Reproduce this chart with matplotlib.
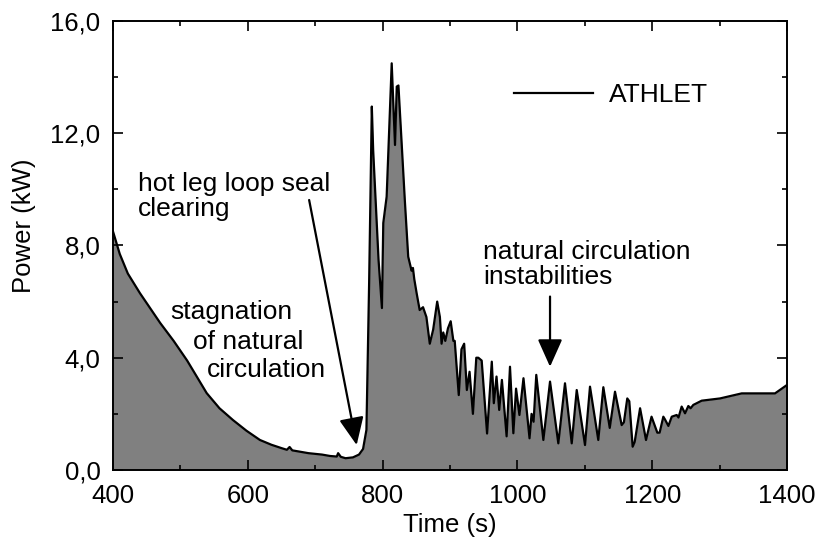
import matplotlib
matplotlib.use("Agg")
import matplotlib.pyplot as plt
from matplotlib.ticker import MultipleLocator, FuncFormatter

plt.rcParams['font.family'] = ['Liberation Sans', 'DejaVu Sans']

# --- DATA ---
time_s = [400, 410, 422, 440, 470, 490, 510, 525, 539, 558, 578, 598, 618, 635,
          650, 658, 662, 666, 690, 710, 722, 732, 734, 738, 745, 756, 765, 771,
          776, 780, 784, 786, 794, 799, 801, 806, 813.5, 818.4, 821, 823.5, 828,
          833, 838, 843, 845, 847, 850.5, 855, 860, 865, 870, 875, 881, 885,
          887.5, 890, 893, 897, 901, 905, 907, 913, 917, 921, 925, 929, 934,
          939, 942, 947, 955, 962, 965, 969, 973, 977, 984, 989, 994, 998,
          1003, 1009, 1018, 1021, 1024, 1028, 1038.5, 1048.4, 1060.7, 1070.6,
          1080.6, 1088, 1100.3, 1107.7, 1120, 1127.5, 1137, 1144.8, 1154.7,
          1158, 1163, 1166, 1171, 1174, 1182, 1190.8, 1199, 1207.6, 1211,
          1216.5, 1219, 1224, 1229, 1236.3, 1239, 1243.7, 1248.7, 1253.6, 1257,
          1261, 1266, 1273.4, 1300.6, 1332.8, 1382.2, 1400]
power_kw = [8.5, 7.7, 7.0, 6.3, 5.24, 4.6, 3.9, 3.3, 2.74, 2.2, 1.78, 1.4, 1.07, 0.9,
            0.78, 0.72, 0.82, 0.7, 0.6, 0.55, 0.5, 0.48, 0.6, 0.47, 0.42, 0.45, 0.55, 0.75,
            1.43, 6.66, 12.95, 11.4, 7.48, 5.77, 8.8, 9.74, 14.49, 11.58, 13.66, 13.7, 11.76,
            9.6, 7.6, 7.1, 7.2, 6.8, 6.3, 5.7, 5.8, 5.45, 4.5, 5.0, 6.0, 5.45,
            4.5, 4.9, 4.6, 5.05, 5.3, 4.6, 4.6, 2.67, 4.3, 4.5, 2.85, 3.5, 2.0,
            4.0, 4.0, 3.9, 1.3, 3.86, 2.38, 3.33, 2.14, 3.21, 1.2, 3.68, 1.31, 2.9,
            1.96, 3.27, 1.13, 2.0, 1.72, 3.39, 1.07, 3.15, 0.95, 3.09,
            0.95, 2.85, 0.89, 2.97, 1.07, 2.95, 1.5, 2.79, 1.6,
            1.7, 2.55, 2.45, 0.83, 1.0, 2.2, 1.07, 1.9, 1.33, 1.33,
            1.9, 1.8, 1.57, 1.9, 1.96, 1.87, 2.26, 2.02, 2.28, 2.2,
            2.32, 2.38, 2.47, 2.55, 2.73, 2.73, 3.03]

series_label = "ATHLET"
x_label = "Time (s)"
y_label = "Power (kW)"

FS = 18.5     # ticks / axis labels
FS_TXT = 19   # annotations, legend

fig = plt.figure(figsize=(8.26, 5.45), dpi=100)
ax = fig.add_axes([0.1368, 0.1376, 0.816, 0.824])

ax.fill_between(time_s, power_kw, 0, color='#808080', lw=0)
ax.plot(time_s, power_kw, color='black', lw=1.6, label=series_label)

ax.set_xlim(400, 1400)
ax.set_ylim(0, 16)
ax.xaxis.set_major_locator(MultipleLocator(200))
ax.xaxis.set_minor_locator(MultipleLocator(100))
ax.yaxis.set_major_locator(MultipleLocator(4))
ax.yaxis.set_minor_locator(MultipleLocator(2))
ax.yaxis.set_major_formatter(FuncFormatter(lambda v, p: f"{v:.1f}".replace('.', ',')))

ax.tick_params(which='both', direction='in', top=True, right=True, width=1.2)
ax.tick_params(which='major', length=7.5)
ax.tick_params(which='minor', length=3.5)
ax.tick_params(axis='x', which='major', labelsize=FS, pad=10)
ax.tick_params(axis='y', which='major', labelsize=FS, pad=9)
for sp in ax.spines.values():
    sp.set_linewidth(1.4)

ax.set_xlabel(x_label, fontsize=FS, labelpad=4)
ax.set_ylabel(y_label, fontsize=FS, labelpad=8)
ax.yaxis.set_label_coords(-0.114, 0.545)

leg = ax.legend(loc='center left', bbox_to_anchor=(0.595, 0.835), frameon=False,
                fontsize=FS_TXT, handlelength=3.0, handletextpad=0.6,
                borderpad=0, borderaxespad=0)

# annotations
ax.text(437, 10.2, "hot leg loop seal", fontsize=FS_TXT, va='center', ha='left')
ax.text(437, 9.3, "clearing", fontsize=FS_TXT, va='center', ha='left')
ax.annotate('', xy=(761.5, 0.89), xytext=(691, 9.62),
            arrowprops=dict(arrowstyle='-|>,head_length=0.85,head_width=0.38',
                            color='black', lw=1.6, mutation_scale=20, shrinkA=0, shrinkB=0))

ax.text(485, 5.64, "stagnation", fontsize=FS_TXT, va='center', ha='left')
ax.text(518, 4.56, "of natural", fontsize=FS_TXT, va='center', ha='left')
ax.text(539, 3.56, "circulation", fontsize=FS_TXT, va='center', ha='left')

ax.text(949, 7.78, "natural circulation", fontsize=FS_TXT, va='center', ha='left')
ax.text(949, 6.87, "instabilities", fontsize=FS_TXT, va='center', ha='left')
ax.annotate('', xy=(1048.4, 3.68), xytext=(1048.4, 6.18),
            arrowprops=dict(arrowstyle='-|>,head_length=0.85,head_width=0.38',
                            color='black', lw=1.6, mutation_scale=20, shrinkA=0, shrinkB=0))

fig.savefig("out.png", dpi=100)
